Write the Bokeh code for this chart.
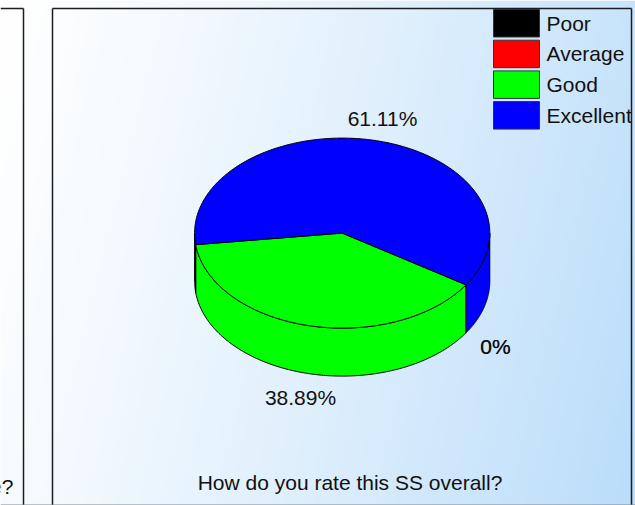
import numpy as np
from bokeh.plotting import figure
from bokeh.models import Range1d
from bokeh.core.properties import value
from bokeh.embed import file_html
from bokeh.resources import INLINE

# Survey results
categories = ["Poor", "Average", "Good", "Excellent"]
shares = [0.0, 0.0, 38.89, 61.11]
slice_colors = ["#000000", "#ff0000", "#00ff00", "#0000ff"]
value_labels = ["0%", "0%", "38.89%", "61.11%"]
chart_title = "How do you rate this SS overall?"
cut_off_title = "e?"

W, H = 635, 505
FONT = value("Liberation Sans")
FONT_SIZE = "21px"
INK = "#111111"


def Y(py):
    """Page pixel rows (top-down) to the upward data axis."""
    return H - np.asarray(py, dtype=float)


# Pie geometry, in page pixels
CX, CY, RX, RY, DEPTH = 341.7, 232.6, 147.6, 95, 48
START_DEG = 33

p = figure(width=W, height=H, output_backend="svg", toolbar_location=None,
           x_range=Range1d(0, W), y_range=Range1d(0, H), min_border=0,
           x_axis_location=None, y_axis_location=None)
p.grid.visible = False
p.outline_line_color = None
p.background_fill_color = "#ffffff"
p.border_fill_color = "#ffffff"

# Soft white-to-blue wash behind both panels; rows run bottom-up
ny, nx = 101, 127
xx, yy = np.meshgrid(np.linspace(0, W, nx), np.linspace(H, 0, ny))
t = np.clip((xx + 0.25 * yy) / (W + 0.25 * H), 0, 1) ** 1.25
img = np.zeros((ny, nx), dtype=np.uint32)
view = img.view(dtype=np.uint8).reshape((ny, nx, 4))
view[..., 0] = (255 + (186 - 255) * t).astype(np.uint8)
view[..., 1] = (255 + (221 - 255) * t).astype(np.uint8)
view[..., 2] = (255 + (250 - 255) * t).astype(np.uint8)
view[..., 3] = 255
p.image_rgba(image=[img], x=0, y=0, dw=W, dh=H)


def ellipse_points(a, b, dy=0.0, n=160):
    ang = np.radians(np.linspace(a, b, n))
    return CX + RX * np.cos(ang), Y(CY + dy + RY * np.sin(ang))


# Turn the shares into angular spans, clockwise on screen
spans = []
angle = START_DEG
total = sum(shares)
for share in shares:
    sweep = 360 * share / total
    spans.append((angle, angle + sweep))
    angle += sweep

# Outer wall of the disc: only the front half of the rim shows
for (a, b), color in zip(spans, slice_colors):
    for lo, hi in ((0, 180), (360, 540)):
        s, e = max(a, lo), min(b, hi)
        if e > s:
            tx, ty = ellipse_points(s, e)
            bx, by = ellipse_points(e, s, DEPTH)
            p.patch(np.r_[tx, bx], np.r_[ty, by], fill_color=color,
                    line_color="#000000", line_width=1)

# Top face
for (a, b), color in zip(spans, slice_colors):
    if b > a:
        ex, ey = ellipse_points(a, b, n=240)
        p.patch(np.r_[CX, ex], np.r_[Y(CY), ey], fill_color=color,
                line_color="#000000", line_width=1)

# Percentage labels; the two empty slices print on the same spot
label_x = [495, 495, 300, 382]
label_y = [346, 346, 397, 118]
p.text(label_x, Y(label_y), text=value_labels, text_font=FONT, text_font_size=FONT_SIZE,
       text_align="center", text_baseline="middle", text_color=INK)

# Legend
swatch_left, swatch_right = 493, 539
row_top = 9
row_step = 30.7
row_h = 27.5
tops = np.array([row_top + i * row_step for i in range(len(categories))])
p.quad(left=swatch_left, right=swatch_right, top=Y(tops), bottom=Y(tops + row_h),
       fill_color=slice_colors, line_color="#333333", line_width=1)
p.text([546] * len(categories), Y(tops + row_h / 2), text=categories,
       text_font=FONT, text_font_size=FONT_SIZE, text_align="left",
       text_baseline="middle", text_color=INK)

# Titles under each panel
p.text([349.5], Y([482]), text=[chart_title], text_font=FONT, text_font_size=FONT_SIZE,
       text_align="center", text_baseline="middle", text_color=INK)
p.text([13], Y([486]), text=[cut_off_title], text_font=FONT, text_font_size=FONT_SIZE,
       text_align="right", text_baseline="middle", text_color=INK)

# Panel frames
p.segment(x0=[0, 23, 52, 52, 631], y0=Y([8, 8, 8, 8, 8]),
          x1=[23, 23, 631, 52, 631], y1=Y([8, H, 8, H, H]),
          line_color="#1c1c24", line_width=1.5)
p.segment(x0=[0], y0=Y([504.5]), x1=[W], y1=Y([504.5]), line_color="#7f8a96", line_width=1)

open("out.html", "w").write(file_html(p, INLINE))
